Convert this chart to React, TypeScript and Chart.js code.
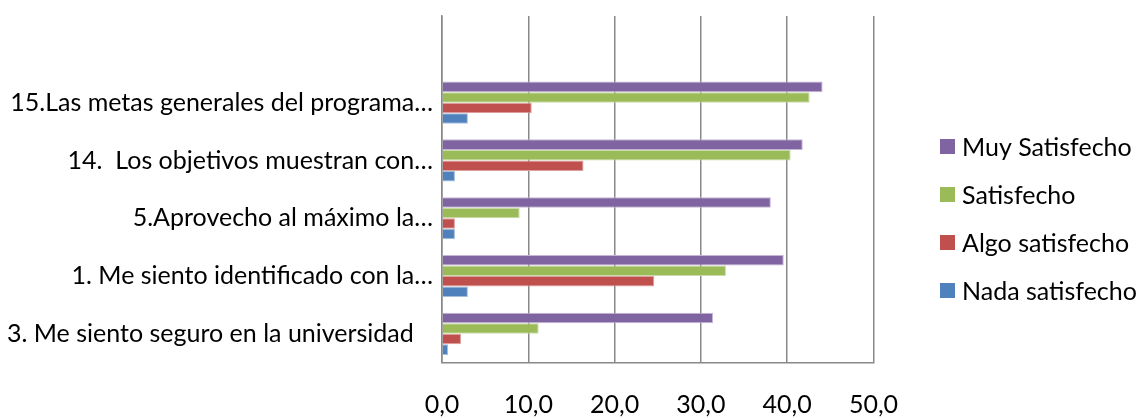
import { useEffect, useRef } from "react";
import { Chart, registerables } from "chart.js";

Chart.register(...registerables);

const categories = [
  "",
  "15.Las metas generales del programa…",
  "14.  Los objetivos muestran con…",
  "5.Aprovecho al máximo la…",
  "1. Me siento identificado con la…",
  "3. Me siento seguro en la universidad   ",
];
const seriesNames = ["Muy Satisfecho", "Satisfecho", "Algo satisfecho", "Nada satisfecho"];
const muySatisfecho = [null, 44.1, 41.8, 38.1, 39.6, 31.4];
const satisfecho = [null, 42.6, 40.4, 9.0, 32.9, 11.2];
const algoSatisfecho = [null, 10.4, 16.4, 1.5, 24.6, 2.2];
const nadaSatisfecho = [null, 3.0, 1.5, 1.5, 3.0, 0.7];
const xTickLabels = ["0,0", "10,0", "20,0", "30,0", "40,0", "50,0"];

const colors = ["#8064A2", "#9BBB59", "#C0504D", "#4F81BD"];
const borders = ["#C3B5D6", "#CADBA8", "#DDA2A0", "#A5BEDD"];

const FONT = "Lato";
const FSIZE = 25;

const legendPlugin = {
  id: "customLegend",
  afterDraw(chart: any) {
    const ctx = chart.ctx;
    ctx.save();
    ctx.font = `${FSIZE}px ${FONT}`;
    ctx.textBaseline = "middle";
    ctx.textAlign = "left";
    chart.data.datasets.forEach((ds: any, i: number) => {
      const y = 146.5 + i * 48;
      ctx.fillStyle = ds.backgroundColor;
      ctx.fillRect(940, y - 7.5, 15, 15);
      ctx.fillStyle = "#000";
      ctx.fillText(ds.label, 962, y + 1);
    });
    ctx.restore();
  },
};

export default function App() {
  const ref = useRef<HTMLCanvasElement>(null);

  useEffect(() => {
    if (!ref.current) return;
    const series = [muySatisfecho, satisfecho, algoSatisfecho, nadaSatisfecho];
    const chart = new Chart(ref.current, {
      type: "bar",
      data: {
        labels: categories,
        datasets: series.map((d, i) => ({
          label: seriesNames[i],
          data: d,
          backgroundColor: colors[i],
          borderColor: borders[i],
          borderWidth: 1,
          categoryPercentage: 0.73,
          barPercentage: 1,
        })),
      },
      options: {
        indexAxis: "y",
        animation: false,
        responsive: false,
        layout: { padding: { left: 0, right: 263.5, top: 16, bottom: 0 } },
        plugins: {
          legend: { display: false },
          tooltip: { enabled: false },
        },
        scales: {
          x: {
            min: 0,
            max: 50,
            afterFit: (s: any) => {
              s.height = 55.3;
            },
            ticks: {
              stepSize: 10,
              padding: 27,
              color: "#000",
              font: { family: FONT, size: FSIZE },
              callback: (_v: any, i: number) => xTickLabels[i],
            },
            grid: { color: "#888888", lineWidth: 1.5, drawTicks: false },
            border: { display: true, color: "#888888", width: 1.5 },
          },
          y: {
            afterFit: (s: any) => {
              s.width = 442;
              s.paddingTop = 0;
              s.paddingBottom = 0;
            },
            ticks: {
              padding: 9,
              color: "#000",
              font: { family: FONT, size: FSIZE },
            },
            grid: { display: false, drawTicks: false },
            border: { display: true, color: "#888888", width: 1.5 },
          },
        },
      },
      plugins: [legendPlugin],
    });
    return () => chart.destroy();
  }, []);

  return (
    <div style={{ position: "absolute", left: 0, top: 0, width: 1137, height: 418 }}>
      <canvas ref={ref} width={1137} height={418} style={{ display: "block" }} />
    </div>
  );
}
